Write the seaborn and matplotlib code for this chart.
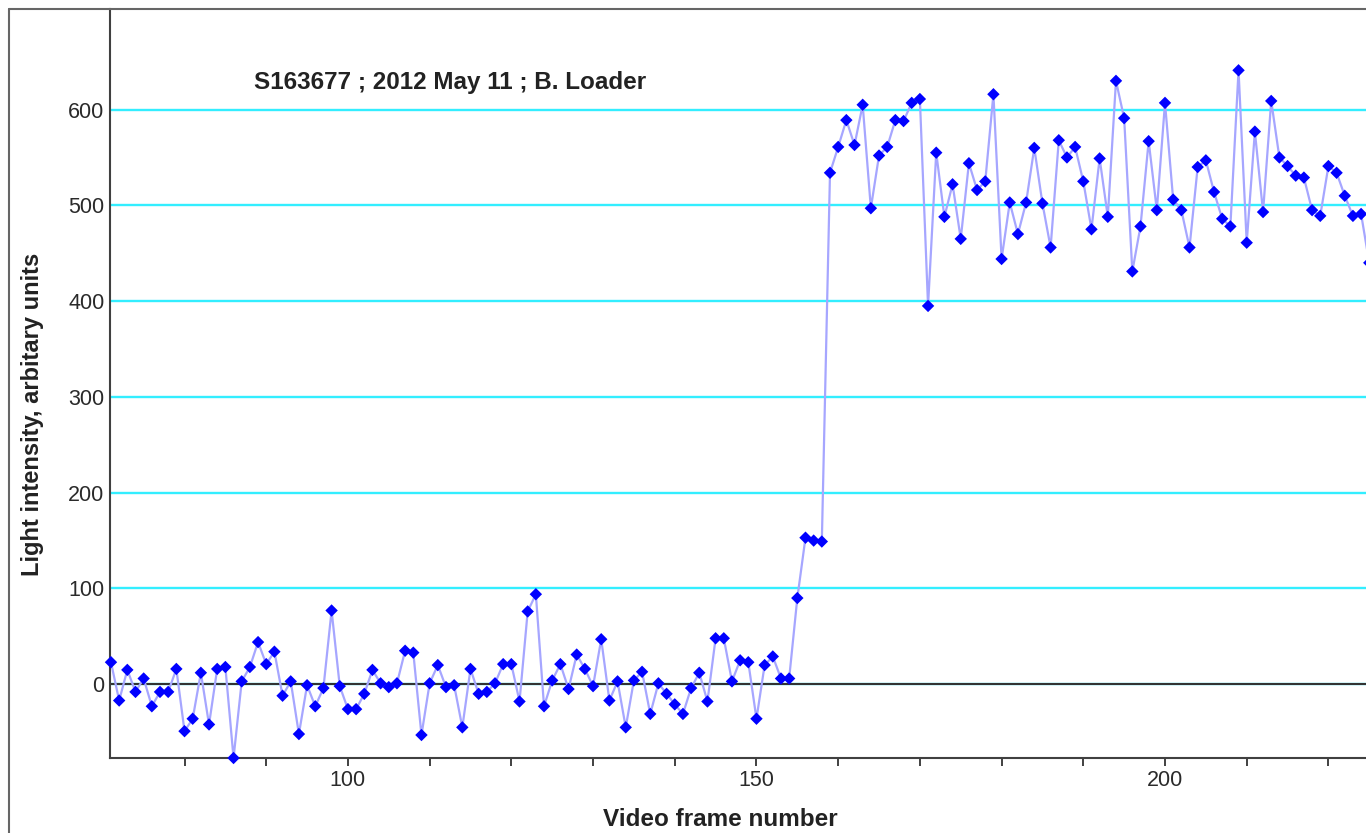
import matplotlib
matplotlib.use('Agg')
import matplotlib.pyplot as plt
import seaborn as sns
import pandas as pd
from matplotlib.ticker import FixedLocator, FuncFormatter
from matplotlib.lines import Line2D

# ---- data ----
frames = list(range(71, 226))
intensity = [
    23, -17, 15, -8, 6, -23, -8, -8, 16, -49,          # 71-80
    -36, 12, -42, 16, 18, -77, 3, 18, 44, 21,          # 81-90
    34, -12, 3, -52, -1, -23, -4, 77, -2, -26,         # 91-100
    -26, -10, 15, 1, -3, 1, 35, 33, -53, 1,            # 101-110
    20, -3, -1, -45, 16, -10, -8, 1, 21, 21,           # 111-120
    -18, 76, 94, -23, 4, 21, -5, 31, 16, -2,           # 121-130
    47, -17, 3, -45, 4, 13, -31, 1, -10, -21,          # 131-140
    -31, -4, 12, -18, 48, 48, 3, 25, 23, -36,          # 141-150
    20, 29, 6, 6, 90, 153, 150, 149, 534, 561,         # 151-160
    589, 563, 605, 497, 552, 561, 589, 588, 607, 611,  # 161-170
    395, 555, 488, 522, 465, 544, 516, 525, 616, 444,  # 171-180
    503, 470, 503, 560, 502, 456, 568, 550, 561, 525,  # 181-190
    475, 549, 488, 630, 591, 431, 478, 567, 495, 607,  # 191-200
    506, 495, 456, 540, 547, 514, 486, 478, 641, 461,  # 201-210
    577, 493, 609, 550, 541, 531, 529, 495, 489, 541,  # 211-220
    534, 510, 489, 491, 440,                           # 221-225
]
y_ticks = [0, 100, 200, 300, 400, 500, 600]
x_ticks = list(range(80, 230, 10))
title_text = "S163677 ; 2012 May 11 ; B. Loader"
x_label = "Video frame number"
y_label = "Light intensity, arbitary units"

sns.set_theme(style='white')
plt.rcParams['font.family'] = ['Liberation Sans', 'DejaVu Sans']

W, H = 1366, 833
fig = plt.figure(figsize=(W / 100, H / 100), dpi=100)
ax = fig.add_axes([110 / W, (H - 758) / H, (W - 110) / W, (758 - 9) / H])

df = pd.DataFrame({'frame': frames, 'intensity': intensity})
sns.lineplot(data=df, x='frame', y='intensity', color='#a6a6ff',
             linewidth=1.6, ax=ax, zorder=3)
sns.scatterplot(data=df, x='frame', y='intensity', marker='D', s=40,
                color='#0000ff', edgecolor='none', linewidth=0, ax=ax,
                zorder=4, clip_on=False)

ax.set_xlim(70.88, 224.6)
ax.set_ylim(-77, 705)

ax.set_yticks(y_ticks)
ax.yaxis.grid(True, color='#33eeff', linewidth=1.7, zorder=1)
ax.xaxis.grid(False)
ax.set_axisbelow(True)
ax.axhline(0, color='#333333', linewidth=1.5, zorder=2)

ax.xaxis.set_major_locator(FixedLocator(x_ticks))
ax.xaxis.set_major_formatter(FuncFormatter(lambda v, p: f"{int(v)}" if int(v) % 50 == 0 else ""))
ax.tick_params(axis='x', bottom=True, direction='out', length=5.5, width=1.3,
               color='#333333', pad=3, labelsize=15.5, labelcolor='#2a2a2a')
ax.tick_params(axis='y', left=True, length=0, pad=4, labelsize=15.5,
               labelcolor='#2a2a2a')

for s in ['top', 'right']:
    ax.spines[s].set_visible(False)
for s in ['left', 'bottom']:
    ax.spines[s].set_color('#404040')
    ax.spines[s].set_linewidth(1.5)

ax.set_xlabel('')
ax.set_ylabel('')

fig.text(254 / W, 1 - 89.5 / H, title_text, ha='left', va='baseline',
         fontsize=17.5, fontweight='bold', color='#222222')
fig.text(720 / W, 1 - 826 / H, x_label, ha='center', va='baseline',
         fontsize=17.5, fontweight='bold', color='#222222')
fig.text(33 / W, 1 - 414 / H, y_label, ha='center', va='center', rotation=90,
         fontsize=17, fontweight='bold', color='#222222')

# outer frame of the screenshot
fig.add_artist(Line2D([9 / W, 9 / W], [0, 1 - 9 / H], transform=fig.transFigure,
                      color='#666666', linewidth=1.5))
fig.add_artist(Line2D([9 / W, 1], [1 - 9 / H, 1 - 9 / H], transform=fig.transFigure,
                      color='#666666', linewidth=1.5))

fig.savefig('out.png', dpi=100)
